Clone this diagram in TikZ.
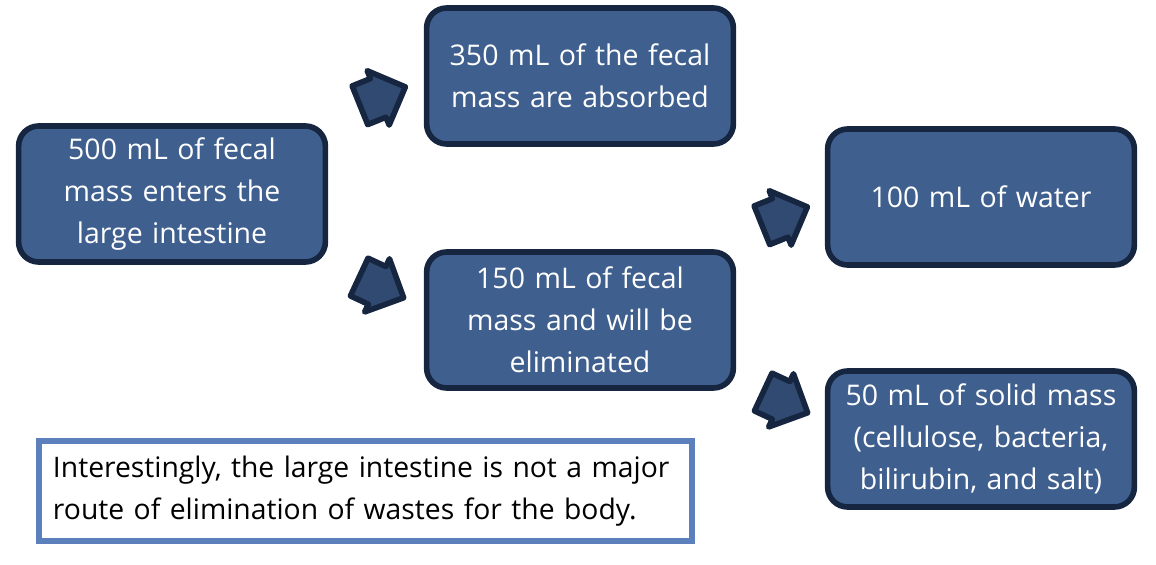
\documentclass[tikz,border=0pt]{standalone}
\usepackage{fontspec}
\setmainfont{Open Sans}
\usetikzlibrary{shapes.arrows, positioning}
\definecolor{boxblue}{RGB}{63, 95, 142}
\definecolor{boxnavy}{RGB}{22, 38, 64}
\definecolor{arrowblue}{RGB}{48, 74, 114}
\definecolor{noteblue}{RGB}{92, 128, 188}
\tikzset{
  stagebox/.style={rectangle, rounded corners=0.4cm, draw=boxnavy, line width=3.2pt, fill=boxblue, minimum width=6.08cm, minimum height=2.72cm, text width=5.9cm, align=center, text=white, font=\fontsize{16.2}{24}\selectfont},
  flowblock/.style={single arrow, draw=boxnavy, fill=arrowblue, line width=3.2pt, line join=round, inner sep=0pt, inner ysep=0.36cm, single arrow head extend=0.17cm, minimum height=0.98cm},
  notebox/.style={rectangle, draw=noteblue, line width=3pt, fill=white, minimum width=13.04cm, minimum height=2.0cm, inner xsep=0.28cm, text width=12.5cm, align=left, text=black, font=\fontsize{16.1}{24}\selectfont}
}

\begin{document}
\begin{tikzpicture}
    \useasboundingbox (0, 0) rectangle (23.12, 11.28);

    % input stage
    \node[stagebox] (enter) at (3.44, 7.40) {500 mL of fecal\\mass enters the\\large intestine};

    % first split
    \node[stagebox] (absorbed) at (11.60, 9.76) {350 mL of the fecal\\mass are absorbed};
    \node[stagebox] (eliminated) at (11.60, 4.88) {150 mL of fecal\\mass and will be\\eliminated};

    % second split
    \node[stagebox, minimum width=6.12cm] (water) at (19.62, 7.34) {100 mL of water};
    \node[stagebox, minimum width=6.12cm] (solid) at (19.62, 2.50) {50 mL of solid mass\\(cellulose, bacteria,\\bilirubin, and salt)};

    % block arrows between the stages
    \node[flowblock, rotate=22] (toabsorbed) at (7.46, 9.28) {};
    \node[flowblock, rotate=-25] (toeliminated) at (7.44, 5.62) {};
    \node[flowblock, rotate=22] (towater) at (15.50, 6.88) {};
    \node[flowblock, rotate=-25] (tosolid) at (15.52, 3.32) {};

    % remark
    \node[notebox] (remark) at (7.31, 1.46) {Interestingly, the large intestine is not a major\\route of elimination of wastes for the body.};
\end{tikzpicture}
\end{document}
